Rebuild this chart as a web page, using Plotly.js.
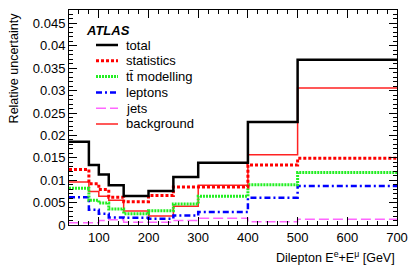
<!DOCTYPE html>
<html>
<head>
<meta charset="utf-8">
<script src="https://cdn.plot.ly/plotly-3.0.1.min.js"></script>
<style>html,body{margin:0;padding:0;background:#fff;}#chart{width:414px;height:269px;}</style>
</head>
<body>
<div id="chart"></div>
<script>
// Bin edges (GeV)
const binEdges = [40, 80, 100, 120, 150, 200, 250, 300, 400, 500, 700];
// Relative uncertainties per bin
const total      = [0.0186, 0.0134, 0.0113, 0.0089, 0.0065, 0.0076, 0.0107, 0.0139, 0.0230, 0.0369];
const statistics = [0.0124, 0.0092, 0.0079, 0.0062, 0.0052, 0.0066, 0.0085, 0.0085, 0.0134, 0.0149];
const ttModelling= [0.0082, 0.0055, 0.0049, 0.0036, 0.0025, 0.0032, 0.0047, 0.0064, 0.0090, 0.0117];
const leptons    = [0.0062, 0.0034, 0.0025, 0.0017, 0.0016, 0.0014, 0.0021, 0.0029, 0.0061, 0.0087];
const jets       = [0.0005, 0.0005, 0.0010, 0.0012, 0.0006, 0.0006, 0.0010, 0.0015, 0.0007, 0.0013];
const background = [0.0096, 0.0075, 0.0064, 0.0055, 0.0031, 0.0020, 0.0042, 0.0089, 0.0157, 0.0306];
const seriesNames = ['total', 'statistics', 'tt\u0304 modelling', 'leptons', 'jets', 'background'];

function stepY(vals) { return vals.concat([vals[vals.length - 1]]); }

const styles = [
  {color: '#000000', width: 2.5, dash: 'solid'},
  {color: '#ff0000', width: 3, dash: '3px,2px'},
  {color: '#22ee22', width: 3, dash: '2px,1px'},
  {color: '#0000ff', width: 2.5, dash: '6px,3px,2px,3px'},
  {color: '#ff66ff', width: 1.5, dash: '10px,4px'},
  {color: '#ff2222', width: 1.5, dash: 'solid'}
];
const allSeries = [total, statistics, ttModelling, leptons, jets, background];
const drawOrder = [5, 4, 3, 2, 1, 0];

const traces = drawOrder.map(i => ({
  x: binEdges,
  y: stepY(allSeries[i]),
  type: 'scatter',
  mode: 'lines',
  name: seriesNames[i],
  showlegend: false,
  line: {shape: 'hv', color: styles[i].color, width: styles[i].width, dash: styles[i].dash}
}));

// Legend drawn in paper coordinates (plot area: 328 x 215 px)
const plotW = 328, plotH = 215;
const legX0 = 27 / plotW, legX1 = 49 / plotW, legTextX = 55 / plotW;
const legendShapes = [], legendTexts = [];
seriesNames.forEach((name, i) => {
  const yy = 1 - (35 + 15.8 * i) / plotH;
  legendShapes.push({type: 'line', xref: 'paper', yref: 'paper', x0: legX0, x1: legX1, y0: yy, y1: yy,
    line: {color: styles[i].color, width: styles[i].width, dash: styles[i].dash}});
  legendTexts.push({text: name, xref: 'paper', yref: 'paper', x: legTextX, y: yy, xanchor: 'left', yanchor: 'middle',
    showarrow: false, font: {size: 13}});
});

const layout = {
  width: 414, height: 269,
  margin: {l: 69, r: 17, t: 10, b: 44},
  paper_bgcolor: '#fff', plot_bgcolor: '#fff',
  font: {family: 'Liberation Sans, Arial, sans-serif', size: 13, color: '#000'},
  showlegend: false,
  xaxis: {range: [40, 700], dtick: 100, tick0: 0, ticks: 'inside', ticklen: 8, tickcolor: '#000',
          showline: true, linecolor: '#000', linewidth: 1, mirror: 'ticks', showgrid: false, zeroline: false,
          minor: {dtick: 20, ticks: 'inside', ticklen: 4, tickcolor: '#000', showgrid: false},
          tickfont: {size: 13}},
  yaxis: {range: [0, 0.048], dtick: 0.005, tick0: 0, ticks: 'inside', ticklen: 8, tickcolor: '#000',
          showline: true, linecolor: '#000', linewidth: 1, mirror: 'ticks', showgrid: false, zeroline: false,
          minor: {dtick: 0.001, ticks: 'inside', ticklen: 4, tickcolor: '#000', showgrid: false},
          tickfont: {size: 13}},
  shapes: legendShapes,
  annotations: [
    {text: '<b><i>ATLAS</i></b>', xref: 'paper', yref: 'paper', x: 0.045, y: 0.905, xanchor: 'left', yanchor: 'middle',
     showarrow: false, font: {size: 13}},
    {text: 'Dilepton E<sup>e</sup>+E<sup>\u03bc</sup> [GeV]', xref: 'paper', yref: 'paper', x: 1, y: -0.15,
     xanchor: 'right', yanchor: 'middle', showarrow: false, font: {size: 12.5}},
    {text: 'Relative uncertainty', xref: 'paper', yref: 'paper', x: -0.168, y: 1, xanchor: 'center', yanchor: 'top',
     textangle: -90, showarrow: false, font: {size: 12.5}}
  ].concat(legendTexts)
};

Plotly.newPlot('chart', traces, layout, {displayModeBar: false, staticPlot: true});
</script>
</body>
</html>
